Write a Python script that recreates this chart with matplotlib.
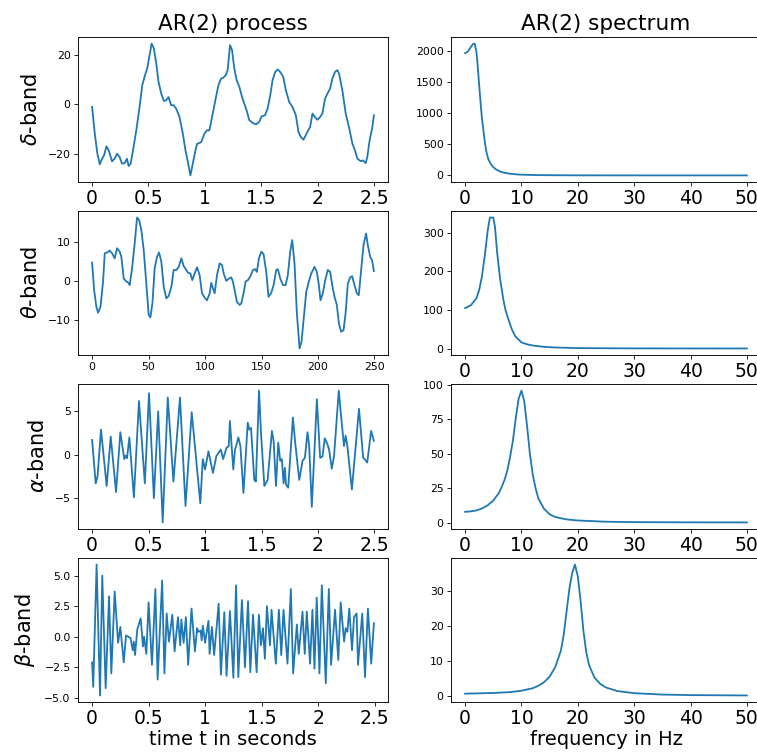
import matplotlib
matplotlib.use("Agg")
import matplotlib.pyplot as plt

# ---------------- data ----------------
# Time series: sample index (100 Hz sampling) and value at turning points
delta_idx = [0, 2.4, 4.7, 6.8, 8.8, 10.6, 12.7, 14.7, 17.7, 20, 22.1, 24.5, 26.5, 28.9, 30.9, 32.4, 34.2,
             36.3, 39.2, 42.1, 44.5, 46.9, 48.9, 51, 52.8, 54.8, 56.9, 58.9, 61.3, 63.7, 65.7, 67.8, 70.1,
             72.2, 74.6, 77.5, 80.5, 82.8, 85.2, 87.2, 89.3, 91.7, 93.1, 96.7, 99.6, 101.7, 104, 107, 109.9,
             112, 114.4, 116.4, 118.5, 120.2, 122.3, 124.1, 126.1, 128.2, 130.6, 132.9, 135, 137, 139.4,
             142.4, 145.3, 148.2, 150.3, 153.3, 155.6, 158, 160, 162.4, 164.5, 166.8, 169.5, 171.8, 174.8,
             177.7, 180.7, 183, 185.1, 187.4, 189.5, 191.6, 193.3, 195.4, 197.5, 199.8, 202.2, 204.2, 206.6,
             208.7, 211, 213.1, 215.4, 217.5, 219, 221.9, 224.9, 227.8, 230.8, 233.1, 235.2, 238.1, 240.2,
             242.6, 244, 246.1, 248.5, 249.9]
delta_val = [-1.0, -11.9, -20, -24.3, -22, -20.7, -17, -18.6, -23.1, -22, -20, -21.4, -24, -23.8, -22, -25,
             -24, -18.6, -10.5, -1, 7.8, 11.9, 14.6, 20, 24.7, 22.7, 16.6, 9.2, 4.4, 1.4, 1.7, 3.0, -0.3,
             -0.3, -1.7, -5.1, -11.9, -18.6, -24, -28.8, -24, -18.6, -16, -15.3, -11.9, -10.5, -10.5, -3.7,
             3.1, 7.8, 10.5, 10.9, 11.9, 13.9, 24.1, 22, 14.6, 9.8, 7.1, 3.1, 0.3, -2.4, -6.4, -7.5, -8.1,
             -7.1, -4.8, -4.4, -1.7, 3.7, 9.8, 13.2, 14.2, 13.2, 11.2, 5.8, 1.0, -1.0, -4.4, -11.2, -13.2,
             -14.3, -12.5, -10.5, -9.2, -3.7, -5.1, -6.2, -5.1, -3.7, 2.4, 4.4, 6.4, 10.5, 13.2, 13.9, 12.5,
             5.8, -3.7, -9.2, -15.9, -18.6, -22, -23, -22.7, -23.8, -21.4, -14.6, -9.2, -4.4]

theta_idx = [0, 1.8, 3.8, 5.3, 7.4, 9.7, 11.2, 13.3, 15.6, 17.7, 20, 22.1, 24.5, 25.9, 28, 30.4, 31.8, 33.3,
             35.4, 37.7, 39.8, 41.6, 43.6, 45.7, 48, 50.1, 51.6, 53.4, 55.4, 57.5, 59.3, 61.3, 63.4, 65.7,
             67.8, 70.2, 72.2, 74.6, 76.7, 79, 81.1, 83.4, 84.9, 87, 88.7, 90.8, 92.9, 95.2, 97.3, 99.6,
             101.7, 104.1, 105.5, 107, 108.5, 110.6, 112.9, 115, 116.5, 118.8, 121.2, 123.2, 124.7, 126.2,
             128.2, 130.6, 132.1, 134.1, 135.9, 138, 140, 142.4, 144.5, 145.9, 147.7, 149.8, 151.8, 154.2,
             156.2, 158.6, 160.7, 163, 164.5, 166.6, 169, 171.3, 173.3, 175.4, 177.2, 179.2, 181.3, 183.7,
             185.4, 187.5, 189.6, 191.9, 194, 196.9, 199, 200.8, 202.2, 204.3, 206.4, 208.7, 210.8, 212.6,
             214.6, 216.7, 218.5, 220.5, 222.6, 224.4, 226.4, 228.5, 230.2, 232.3, 234.4, 236.1, 238.2,
             240.3, 242.6, 244.1, 246.2, 247.9, 249.5]
theta_val = [4.8, -2.3, -6.6, -8.1, -6.6, -0.1, 7.2, 7.4, 7.9, 7.2, 5.9, 8.5, 7.6, 6.3, 0.7, -0.1, -0.3, -1,
             3.3, 9.7, 16.4, 15.8, 13.2, 8, -0.6, -8.7, -9.3, -5.7, 3.3, 6.3, 7.4, 5, -1.4, -4.4, -3.8,
             -1.4, 2.9, 2.9, 3.7, 5.9, 3.9, 2.9, 2.2, 2, 0.3, 2, 3.6, 1.6, -3.1, -4.2, -4.9, -3.1, -0.4,
             -1.8, -3.1, 1.6, 4.6, 4.2, 2, 0.1, 0.7, 1, -0.1, -2.3, -5.3, -6.1, -5.7, -3.1, -0.1, 0.3, 1.2,
             2.9, 3.1, 2.4, 5.9, 7.6, 7, 2.4, -4, -3, -1, 2.9, 3.1, 0.7, -1, -1, 1.6, 7.6, 10.6, 4.6, -8.3,
             -17.3, -15.6, -9.1, -2.7, -0.1, 2, 3.7, 2.4, -1, -4.9, -3.1, 0.3, 2.9, 2.4, -1, -4, -6.1,
             -10.9, -13, -12.6, -8.3, -0.6, 1, 1.3, -1, -3.1, -3.6, 2.9, 9.3, 12.3, 9.3, 6.3, 5.4, 2.6]

alpha_idx = [0, 3.2, 4.8, 7.9, 12.9, 16.5, 21.2, 25, 28.5, 29.7, 30.9, 33, 37, 41.5, 46.7, 50.4, 54.7, 58.5,
             62.5, 67, 72, 77.8, 82.7, 88.2, 95.8, 98, 100, 103, 107, 110, 114, 116, 119, 121, 122, 125,
             126.5, 127.5, 129.5, 131.3, 134, 137.8, 139.2, 140.7, 143.6, 145, 147.8, 149.5, 152.5, 155.4,
             159.2, 160.7, 162.8, 164.8, 166.6, 168, 169.5, 170.7, 171.6, 173.6, 177.8, 179.8, 183.4, 186.3,
             188.4, 190.7, 192.2, 194.5, 199, 201.9, 204, 206, 208.4, 209.8, 212.2, 214.2, 218.4, 220.7,
             223, 224.5, 226, 230, 236.3, 240, 241.3, 243.6, 245, 247, 249.5]
alpha_val = [1.7, -3.3, -2.5, 2.9, -3.6, 2.1, -4.3, 2.6, -0.5, -0.1, -0.4, 2.0, -4.9, 6.2, -3.3, 7.1, -5.0,
             5.0, -7.8, 6.6, -3.1, 6.6, -5.9, 4.9, -5.6, -0.5, -1.7, 0.4, -2.1, -0.15, 0.6, -0.5, 0.8, 1.0,
             3.9, -1.7, 0.6, 1.0, 2.0, 1.0, -4.4, 3.7, 2.9, 3.1, -2.9, -3.1, 7.4, 2.6, -3.6, -2.9, 2.75,
             1.6, -3.6, 1.4, -0.7, -0.5, -3.3, -1.5, -3.4, -3.8, 4.3, 1.4, -2.9, -0.7, -0.35, 2.6, 1.0,
             -6.0, 6.4, -0.35, -0.2, 1.9, 1.2, 0.6, -1.6, -0.15, 7.4, 4.1, 1.0, 2.2, 1.0, -4.0, 5.3,
             -0.35, -0.5, -0.9, 0.6, 2.75, 1.6]

beta_idx = [0, 1, 4, 7, 9, 12, 15, 17, 20, 23, 25, 28, 30, 32, 34, 36, 37, 38, 40, 43, 45, 46, 48, 50, 53,
            56, 58, 62, 64, 66, 68, 71, 73, 76, 78, 79, 81, 83, 85, 88, 91, 93, 94, 96, 97, 98, 100, 103,
            104, 106, 108, 112, 114, 117, 119, 122, 125, 127.4, 129.4, 132.6, 135.3, 138, 140, 142.4, 145.6,
            147.6, 149.4, 151.2, 152.9, 154.7, 157.4, 158.8, 162.6, 165.3, 167.4, 169.4, 172.9, 175.9,
            177.9, 181.2, 182.9, 186.2, 188.2, 190, 192.9, 195, 196.8, 198.8, 201.2, 203.3, 206.8, 209.5,
            211.5, 215, 217.9, 220, 223, 224.4, 225.9, 227.6, 230, 231.8, 234.1, 235.3, 239.1, 241.5,
            244.1, 247, 249.4]
beta_val = [-2.1, -4.1, 5.9, -4.8, 5.0, -4.2, 3.3, -3.0, 3.7, -0.5, 0.8, -2.1, 0.1, 0.0, -0.1, -1.1, -0.4,
            -1.5, 0.6, 1.5, -0.8, 0.0, -1.4, 2.8, -2.3, 3.9, -3.5, 4.6, -3.0, 1.9, -0.4, 1.8, -1.2, 1.6,
            -0.7, 1.4, -0.5, 1.6, -2.3, 2.3, -1.2, 0.7, 0.4, 0.5, -0.3, 0.9, -0.5, 1.3, -1.4, 0.8, -1.5,
            2.7, -3.1, 2.0, -3.2, 2.1, -3.35, 4.2, -3.3, 3.0, -2.5, 2.9, -2.9, 1.8, -2.9, 1.8, -0.7, 0.7,
            -1.8, 2.5, -0.7, 2.2, -2.2, 2.2, -1.5, 2.2, -2.2, 3.9, -3.0, 1.0, -1.4, 2.05, -1.4, 2.05, -2.2,
            2.2, -2.6, 3.2, -3.0, 4.2, -3.8, 3.9, -2.3, 2.2, -1.9, 2.8, -0.4, 0.7, 0.4, 2.3, -1.1, 1.6, 1.9,
            -2.3, 1.9, -3.3, 2.3, -2.2, 1.1]

# Spectra: frequency (Hz) and power
delta_f = [0, 0.5, 1.0, 1.4, 1.7, 2.0, 2.2, 2.5, 2.8, 3.0, 3.3, 3.55, 3.8, 4.1, 4.5, 5.0, 5.5, 6.2, 7.0, 8.0,
           9.0, 10.0, 12.0, 14.0, 16.0, 20.0, 25.0, 30.0, 40.0, 50.0]
delta_p = [1963, 1990, 2060, 2110, 2117, 1990, 1800, 1450, 1110, 907, 690, 507, 370, 267, 190, 133, 96, 64,
           42, 27, 18, 12, 7, 4.5, 3, 1.5, 0.9, 0.6, 0.4, 0.3]

theta_f = [0, 1.0, 2.0, 2.5, 3.0, 3.5, 4.0, 4.4, 5.0, 5.3, 5.7, 6.2, 6.8, 7.2, 7.7, 8.3, 8.9, 10.0, 11.0,
           12.1, 14.0, 16.0, 20.0, 25.0, 30.0, 40.0, 50.0]
theta_p = [105, 112, 130, 152, 188, 242, 305, 340, 340, 316, 247, 182, 126, 98, 75, 50, 32, 16, 11, 7.7,
           4.5, 2.8, 1.3, 0.8, 0.5, 0.35, 0.3]

alpha_f = [0, 1.0, 2.0, 3.0, 4.0, 5.0, 6.0, 6.5, 7.0, 7.5, 8.0, 8.5, 9.0, 9.5, 10.0, 10.5, 11.0, 11.5, 12.0,
           12.5, 13.0, 14.0, 15.0, 16.0, 18.0, 20.0, 25.0, 30.0, 40.0, 50.0]
alpha_p = [7.8, 8.1, 8.8, 10.2, 12.5, 16, 21.5, 26, 31, 38, 48, 60, 76, 90, 95.9, 88, 70, 50, 35, 25, 17.5,
           10, 6, 4, 2.3, 1.5, 0.6, 0.3, 0.15, 0.1]

beta_f = [0, 5.0, 8.0, 10.0, 12.0, 13.0, 14.0, 15.0, 16.0, 17.0, 17.5, 18.0, 18.5, 19.0, 19.5, 20.0, 20.5,
          21.0, 21.5, 22.0, 23.0, 24.0, 25.0, 27.0, 30.0, 35.0, 40.0, 50.0]
beta_p = [0.76, 0.95, 1.2, 1.6, 2.3, 3.0, 4.0, 5.6, 8.3, 13, 17.5, 24, 30.5, 35, 37.4, 34, 27, 18.5, 12.5,
          8.8, 5.2, 3.5, 2.5, 1.5, 0.9, 0.5, 0.35, 0.25]

row_labels = [r"$\delta$-band", r"$\theta$-band", r"$\alpha$-band", r"$\beta$-band"]
time_ticks = [0, 50, 100, 150, 200, 250]
time_ticklabels = ["0", "0.5", "1", "1.5", "2", "2.5"]
freq_ticks = [0, 10, 20, 30, 40, 50]
yticks_time = [[-20, 0, 20], [-10, 0, 10], [-5, 0, 5], [-5, -2.5, 0, 2.5, 5]]
yticks_spec = [[0, 500, 1000, 1500, 2000], [0, 100, 200, 300], [0, 25, 50, 75, 100], [0, 10, 20, 30]]

series = [(delta_idx, delta_val), (theta_idx, theta_val), (alpha_idx, alpha_val), (beta_idx, beta_val)]
spectra = [(delta_f, delta_p), (theta_f, theta_p), (alpha_f, alpha_p), (beta_f, beta_p)]

# ---------------- figure ----------------
W, H = 757, 753
fig = plt.figure(figsize=(W / 100, H / 100), dpi=100)

row_px = [(37, 182), (211, 355), (384, 529), (558, 702)]
left_x0, right_x0, ax_w = 78, 451, 310

small = 7.8
big = 13.5
line_kw = dict(color="#1f77b4", lw=1.3)

for r, (top, bot) in enumerate(row_px):
    axl = fig.add_axes([left_x0 / W, 1 - bot / H, ax_w / W, (bot - top) / H])
    axr = fig.add_axes([right_x0 / W, 1 - bot / H, ax_w / W, (bot - top) / H])
    for ax in (axl, axr):
        for s in ax.spines.values():
            s.set_linewidth(0.65)
        ax.tick_params(length=2.8, width=0.6, pad=2.5)
        ax.tick_params(axis="y", labelsize=small)

    xi, yv = series[r]
    axl.plot(xi, yv, **line_kw)
    axl.set_yticks(yticks_time[r])
    axl.set_xticks(time_ticks)
    if r == 1:
        axl.tick_params(axis="x", labelsize=small)
    else:
        axl.set_xticklabels(time_ticklabels)
        axl.tick_params(axis="x", labelsize=big)
    axl.set_ylabel(row_labels[r], fontsize=15, labelpad=5)

    f, p = spectra[r]
    axr.plot(f, p, **line_kw)
    axr.set_yticks(yticks_spec[r])
    axr.set_xticks(freq_ticks)
    axr.tick_params(axis="x", labelsize=big)

    if r == 0:
        axl.set_title("AR(2) process", fontsize=15.5, pad=5)
        axr.set_title("AR(2) spectrum", fontsize=15.5, pad=5)
    if r == 3:
        axl.set_xlabel("time t in seconds", fontsize=14, labelpad=1)
        axr.set_xlabel("frequency in Hz", fontsize=14, labelpad=1)

fig.savefig("out.png", dpi=100)
